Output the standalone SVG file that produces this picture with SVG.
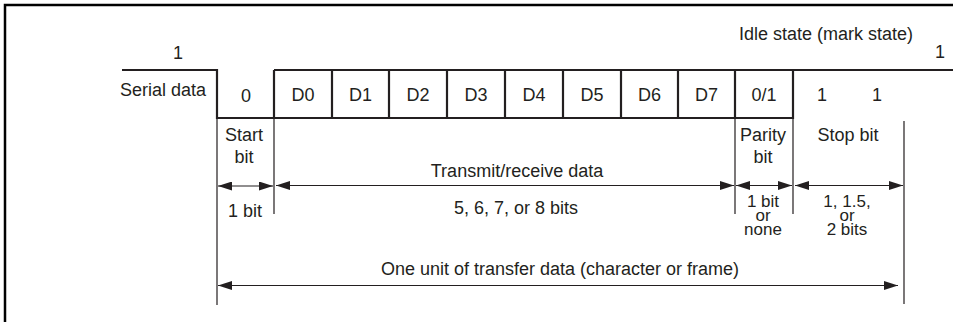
<svg xmlns="http://www.w3.org/2000/svg" width="953" height="322" viewBox="0 0 953 322">
<style>
text{font-family:"Liberation Sans",Arial,sans-serif;font-size:18px;fill:#231f20;text-anchor:middle}
text.stack{font-size:17px}
.sig{fill:none;stroke:#231f20;stroke-width:2.2}
.dim{fill:none;stroke:#231f20;stroke-width:1.2}
.frame{fill:none;stroke:#000;stroke-width:2.5}
</style>
<defs>
<marker id="ah" viewBox="0 0 14 9" refX="14" refY="4.5" markerWidth="14" markerHeight="9" markerUnits="userSpaceOnUse" orient="auto-start-reverse">
<path d="M0,0 L14,4.5 L0,9 Z" fill="#231f20"/>
</marker>
</defs>
<rect width="953" height="322" fill="#fff"/>
<g id="frame">
<path class="frame" d="M5,322 V5 H953"/>
</g>
<g id="signal">
<path class="sig" d="M122,70 H217 V118 H793 V70 H953 M274,70 H793 M274,70 V118"/>
<path class="sig" d="M332,70 V118 M389,70 V118 M447,70 V118 M505,70 V118 M563,70 V118 M621,70 V118 M678,70 V118 M735,70 V118"/>
</g>
<g id="labels-top">
<text x="178" y="59">1</text>
<text x="826" y="40">Idle state (mark state)</text>
<text x="940" y="58">1</text>
<text x="163" y="96">Serial data</text>
<text x="246" y="102">0</text>
<text x="303" y="101">D0</text>
<text x="360.5" y="101">D1</text>
<text x="418" y="101">D2</text>
<text x="476" y="101">D3</text>
<text x="534" y="101">D4</text>
<text x="592" y="101">D5</text>
<text x="649.5" y="101">D6</text>
<text x="706.5" y="101">D7</text>
<text x="764" y="101">0/1</text>
<text x="822" y="101">1</text>
<text x="877" y="101">1</text>
</g>
<g id="connectors">
<path class="dim" d="M217,118 V305 M274,118 V214 M735,118 V214 M793,118 V214 M904,121 V304"/>
<path class="dim" d="M218,186 H273" marker-start="url(#ah)" marker-end="url(#ah)"/>
<path class="dim" d="M276,185.5 H734" marker-start="url(#ah)" marker-end="url(#ah)"/>
<path class="dim" d="M736,185.5 H792" marker-start="url(#ah)" marker-end="url(#ah)"/>
<path class="dim" d="M795,185.5 H903" marker-start="url(#ah)" marker-end="url(#ah)"/>
<path class="dim" d="M218,285.5 H898" marker-start="url(#ah)" marker-end="url(#ah)"/>
</g>
<g id="start-bit">
<text x="244" y="141">Start</text>
<text x="244" y="163">bit</text>
<text x="245" y="217">1 bit</text>
</g>
<g id="data-bits">
<text x="517" y="177">Transmit/receive data</text>
<text x="516" y="214">5, 6, 7, or 8 bits</text>
</g>
<g id="parity-bit">
<text x="763" y="141">Parity</text>
<text x="763" y="163">bit</text>
<text class="stack" x="763" y="207">1 bit</text>
<text class="stack" x="763" y="221">or</text>
<text class="stack" x="763" y="235">none</text>
</g>
<g id="stop-bit">
<text x="848" y="141">Stop bit</text>
<text class="stack" x="847" y="207">1, 1.5,</text>
<text class="stack" x="847" y="221">or</text>
<text class="stack" x="847" y="235">2 bits</text>
</g>
<g id="frame-unit">
<text x="560" y="275">One unit of transfer data (character or frame)</text>
</g>
</svg>
